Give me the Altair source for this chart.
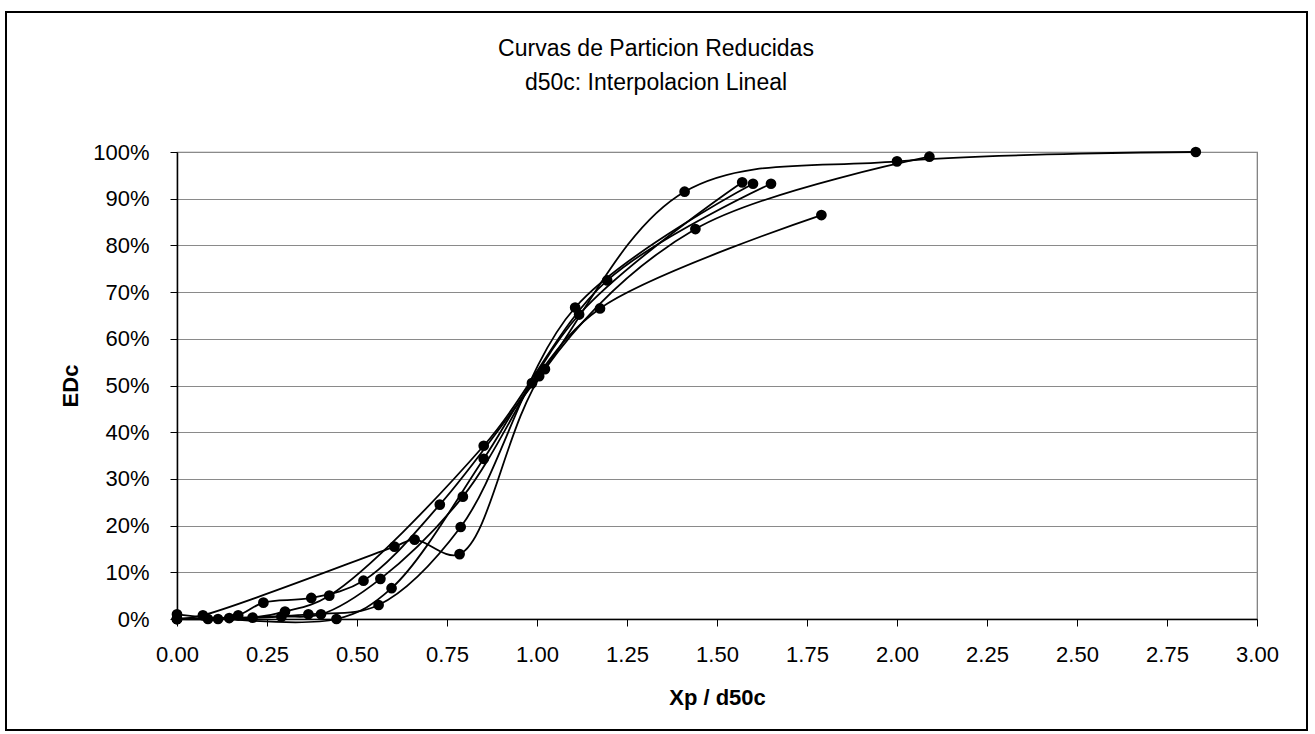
import altair as alt
import pandas as pd

# ---- data (Xp/d50c, EDc) ----
t_x = [0.0, 0.086, 0.17, 0.24, 0.373, 0.518, 0.73, 1.006, 1.41, 2.00, 2.83]
t_y = [0.0, 0.0, 0.008, 0.035, 0.045, 0.082, 0.245, 0.52, 0.915, 0.98, 1.0]

u_x = [0.0, 0.072, 0.604, 0.66, 0.785, 1.022, 1.44, 2.09]
u_y = [0.0, 0.008, 0.155, 0.17, 0.139, 0.535, 0.835, 0.99]

v_x = [0.0, 0.145, 0.21, 0.30, 0.423, 0.852, 1.195, 1.65]
v_y = [0.0, 0.002, 0.003, 0.016, 0.05, 0.371, 0.725, 0.932]

w_x = [0.0, 0.114, 0.29, 0.40, 0.565, 0.794, 1.117, 1.57]
w_y = [0.0, 0.0, 0.005, 0.01, 0.086, 0.262, 0.652, 0.935]

x_x = [0.0, 0.365, 0.56, 0.788, 1.106, 1.60]
x_y = [0.0, 0.01, 0.03, 0.197, 0.667, 0.932]

y_x = [0.0, 0.443, 0.596, 0.852, 0.986, 1.175, 1.79]
y_y = [0.01, 0.0, 0.066, 0.343, 0.505, 0.665, 0.865]

series = {"T": (t_x, t_y), "U": (u_x, u_y), "V": (v_x, v_y),
          "W": (w_x, w_y), "X": (x_x, x_y), "Y": (y_x, y_y)}

x_ticks = [0, 0.25, 0.5, 0.75, 1.0, 1.25, 1.5, 1.75, 2.0, 2.25, 2.5, 2.75, 3.0]
y_ticks = [0, 0.1, 0.2, 0.3, 0.4, 0.5, 0.6, 0.7, 0.8, 0.9, 1.0]

title_lines = ["Curvas de Particion Reducidas", "d50c: Interpolacion Lineal"]

rows = []
for name, (xs, ys) in series.items():
    for i, (a, b) in enumerate(zip(xs, ys)):
        rows.append({"serie": name, "i": i, "xp": a, "edc": b})
df = pd.DataFrame(rows)

FONT = "Liberation Sans"
W, H = 1080, 467
PL, PT = 177, 152

xenc = alt.X("xp:Q", scale=alt.Scale(domain=[0, 3], nice=False),
             axis=alt.Axis(values=x_ticks, format=".2f", grid=False,
                           title="Xp / d50c", titleFontWeight="bold",
                           titleFontSize=22, titlePadding=22,
                           labelFontSize=22, labelPadding=18, tickSize=7,
                           labelFlush=False))
yenc = alt.Y("edc:Q", scale=alt.Scale(domain=[0, 1], nice=False),
             axis=alt.Axis(values=y_ticks, format=".0%", grid=True,
                           gridColor="#8a8a8a", gridWidth=1,
                           title="EDc", titleFontWeight="bold",
                           titleFontSize=22, titlePadding=10,
                           labelFontSize=22, labelPadding=21, tickSize=7,
                           labelFlush=False))

lines = alt.Chart(df).mark_line(interpolate="catmull-rom", color="black",
                                strokeWidth=1.8).encode(
    x=xenc, y=yenc, detail="serie:N", order="i:Q")
points = alt.Chart(df).mark_circle(size=115, color="black", opacity=1).encode(
    x="xp:Q", y="edc:Q")

frame = alt.Chart(pd.DataFrame({"k": [1]})).mark_rect(
    fill=None, stroke="black", strokeWidth=2, clip=False).encode(
    x=alt.value(6 - PL), x2=alt.value(1307 - PL),
    y=alt.value(12 - PT), y2=alt.value(730 - PT))

tdf = pd.DataFrame({"t": title_lines})
title1 = alt.Chart(tdf.iloc[[0]]).mark_text(
    font=FONT, fontSize=23, color="black", align="center",
    baseline="alphabetic", clip=False).encode(
    text="t:N", x=alt.value(656 - PL), y=alt.value(56 - PT))
title2 = alt.Chart(tdf.iloc[[1]]).mark_text(
    font=FONT, fontSize=23, color="black", align="center",
    baseline="alphabetic", clip=False).encode(
    text="t:N", x=alt.value(656 - PL), y=alt.value(90 - PT))

chart = alt.layer(lines, points, frame, title1, title2).properties(
    width=W, height=H,
    autosize=alt.AutoSizeParams(type="none"),
    padding={"left": PL, "top": PT, "right": 1315 - PL - W, "bottom": 734 - PT - H},
    background="white",
).configure_axis(
    labelFont=FONT, titleFont=FONT, labelColor="black", titleColor="black",
    domainColor="black", tickColor="black", domainWidth=1.5,
).configure_view(stroke="#777777", strokeWidth=1.2)

chart.save("out.html", embed_options={"renderer": "svg", "actions": False})
